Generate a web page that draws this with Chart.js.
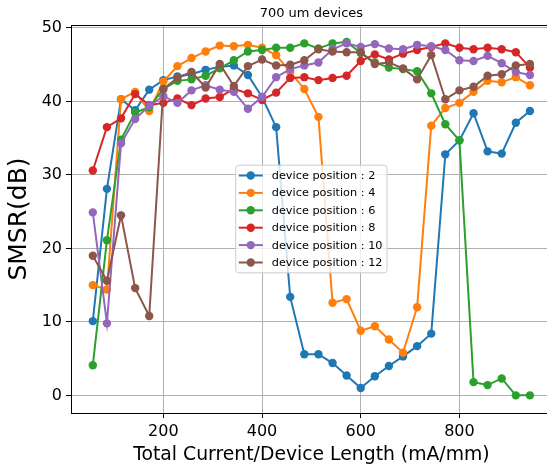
<!DOCTYPE html>
<html>
<head>
<meta charset="utf-8">
<title>700 um devices</title>
<script src="https://cdn.jsdelivr.net/npm/chart.js@4.4.1/dist/chart.umd.min.js"></script>
<style>
  html, body { margin: 0; padding: 0; background: #fff; overflow: hidden; }
  canvas { display: block; }
</style>
</head>
<body>
<canvas id="smsrChart" width="556" height="467"></canvas>
<script>
// current density steps (mA/mm)
const xValues = [57.1, 85.7, 114.3, 142.9, 171.4, 200.0, 228.6, 257.1, 285.7, 314.3, 342.9,
    371.4, 400.0, 428.6, 457.1, 485.7, 514.3, 542.9, 571.4, 600.0, 628.6, 657.1, 685.7,
    714.3, 742.9, 771.4, 800.0, 828.6, 857.1, 885.7, 914.3, 942.9];

const positions = [2, 4, 6, 8, 10, 12];

// SMSR (dB) per device position
const pos2 = [10.1, 28.1, 40.3, 38.8, 41.6, 42.9, 43.4, 43.7, 44.3, 44.7, 44.9, 43.6, 40.6, 36.5,
    13.4, 5.6, 5.6, 4.4, 2.7, 1.0, 2.6, 4.0, 5.3, 6.7, 8.4, 32.8, 34.7, 38.4, 33.2, 32.9, 37.1, 38.7];
const pos4 = [15.0, 14.4, 40.3, 41.3, 38.7, 42.7, 44.8, 45.9, 46.8, 47.6, 47.5, 47.7, 47.3, 46.3,
    44.0, 41.7, 37.9, 12.6, 13.1, 8.8, 9.4, 7.6, 5.8, 12.0, 36.7, 39.1, 39.8, 41.3, 42.8, 42.6, 43.3, 42.2];
const pos6 = [4.1, 21.1, 34.8, 38.5, 39.2, 41.7, 42.8, 43.0, 43.5, 44.5, 45.6, 46.8, 47.0, 47.3,
    47.3, 47.9, 47.2, 47.9, 48.1, 46.6, 45.3, 44.6, 44.4, 44.1, 41.1, 36.9, 34.7, 1.8, 1.4, 2.3, 0.0, 0.0];
const pos8 = [30.6, 36.5, 37.7, 41.0, 39.5, 39.8, 40.4, 39.5, 40.4, 40.6, 41.7, 41.1, 40.2, 41.2,
    43.2, 43.3, 42.9, 43.2, 43.5, 45.5, 46.4, 45.7, 46.5, 47.0, 47.4, 47.9, 47.3, 47.1, 47.3, 47.1, 46.7, 44.6];
const pos10 = [24.9, 9.8, 34.3, 37.6, 39.4, 40.7, 39.8, 41.5, 42.2, 41.6, 41.3, 39.0, 40.6, 43.3,
    44.4, 44.9, 45.3, 47.1, 47.9, 47.4, 47.8, 47.2, 47.1, 47.7, 47.5, 47.0, 45.6, 45.5, 46.2, 45.2, 44.0, 43.6];
const pos12 = [19.0, 15.6, 24.5, 14.6, 10.8, 41.7, 43.2, 44.0, 41.9, 45.1, 42.1, 44.8, 45.7, 44.9,
    45.0, 45.6, 47.1, 46.8, 46.7, 46.7, 45.1, 45.3, 44.5, 43.0, 46.3, 40.3, 41.5, 42.0, 43.5, 43.7, 44.9, 45.1];

const series = [pos2, pos4, pos6, pos8, pos10, pos12];
const xTicks = [200, 400, 600, 800];
const yTicks = [0, 10, 20, 30, 40, 50];

const colors = ['#1f77b4', '#ff7f0e', '#2ca02c', '#d62728', '#9467bd', '#8c564b'];
const FONT = 'DejaVu Sans';

// axes frame (all four spines)
const framePlugin = {
    id: 'frame',
    afterDatasetsDraw(chart) {
        const { ctx, chartArea: a } = chart;
        ctx.save();
        ctx.strokeStyle = '#000';
        ctx.lineWidth = 1;
        ctx.strokeRect(Math.round(a.left) + 0.5, Math.round(a.top) + 0.5,
            Math.round(a.right - a.left), Math.round(a.bottom - a.top));
        ctx.restore();
    }
};

// matplotlib-like legend centred in the plot
const legendPlugin = {
    id: 'boxLegend',
    afterDraw(chart) {
        const { ctx, chartArea: a } = chart;
        const ds = chart.data.datasets;
        const fs = 11.3, rowH = 17.4, pad = 4.5;
        ctx.save();
        ctx.font = fs + 'px "' + FONT + '"';
        const textW = Math.max(...ds.map(d => ctx.measureText(d.label).width));
        const w = 36 + textW + pad;
        const h = (ds.length - 1) * rowH + 20.6;
        const x0 = (a.left + a.right) / 2 - w / 2;
        const y0 = (a.top + a.bottom) / 2 - h / 2;

        ctx.beginPath();
        ctx.roundRect(x0, y0, w, h, 3);
        ctx.fillStyle = 'rgba(255,255,255,0.8)';
        ctx.fill();
        ctx.strokeStyle = '#cccccc';
        ctx.lineWidth = 1;
        ctx.stroke();

        ds.forEach((d, i) => {
            const cy = y0 + 10.3 + i * rowH;
            ctx.strokeStyle = d.borderColor;
            ctx.lineWidth = 2;
            ctx.beginPath();
            ctx.moveTo(x0 + 3, cy);
            ctx.lineTo(x0 + 27, cy);
            ctx.stroke();
            ctx.fillStyle = d.borderColor;
            ctx.beginPath();
            ctx.arc(x0 + 15, cy, 4.2, 0, Math.PI * 2);
            ctx.fill();
            ctx.fillStyle = '#000';
            ctx.textBaseline = 'middle';
            ctx.fillText(d.label, x0 + 36, cy + 0.5);
        });
        ctx.restore();
    }
};

document.addEventListener('DOMContentLoaded', function () {
    const ctx = document.getElementById('smsrChart').getContext('2d');

    new Chart(ctx, {
        type: 'line',
        data: {
            datasets: series.map((vals, i) => ({
                label: 'device position : ' + positions[i],
                data: xValues.map((x, j) => ({ x: x, y: vals[j] })),
                borderColor: colors[i],
                backgroundColor: colors[i],
                borderWidth: 2,
                pointRadius: 4.2,
                pointHoverRadius: 4.2,
                pointBorderWidth: 0,
                tension: 0,
                fill: false,
                order: series.length - i
            }))
        },
        options: {
            responsive: false,
            animation: false,
            devicePixelRatio: 1,
            layout: { padding: 0 },
            events: [],
            plugins: {
                legend: { display: false },
                tooltip: { enabled: false },
                title: {
                    display: true,
                    text: '700 um devices',
                    fullSize: false,
                    color: '#000',
                    font: { family: FONT, size: 13, weight: 'normal' },
                    padding: { top: 6.2, bottom: 3.2 }
                }
            },
            scales: {
                x: {
                    type: 'linear',
                    min: 12.9,
                    max: 987.2,
                    afterBuildTicks: axis => { axis.ticks = xTicks.map(v => ({ value: v })); },
                    afterFit: axis => { axis.height = 54; axis.paddingLeft = 0; axis.paddingRight = 0; },
                    border: { display: false },
                    grid: { color: '#b0b0b0', lineWidth: 1, tickColor: '#000', tickLength: 5, tickWidth: 1 },
                    ticks: { color: '#000', font: { family: FONT, size: 16 }, padding: 4, maxRotation: 0 },
                    title: {
                        display: true,
                        text: 'Total Current/Device Length (mA/mm)',
                        color: '#000',
                        font: { family: FONT, size: 18.8 },
                        padding: { top: 0, bottom: 1 }
                    }
                },
                y: {
                    type: 'linear',
                    min: -2.4,
                    max: 50.4,
                    afterBuildTicks: axis => { axis.ticks = yTicks.map(v => ({ value: v })); },
                    afterFit: axis => { axis.width = 71; axis.paddingTop = 0; axis.paddingBottom = 0; },
                    border: { display: false },
                    grid: { color: '#b0b0b0', lineWidth: 1, tickColor: '#000', tickLength: 5, tickWidth: 1 },
                    ticks: { color: '#000', font: { family: FONT, size: 16 }, padding: 4 },
                    title: {
                        display: true,
                        text: 'SMSR(dB)',
                        color: '#000',
                        font: { family: FONT, size: 25 },
                        padding: { top: 4, bottom: 0 }
                    }
                }
            }
        },
        plugins: [framePlugin, legendPlugin]
    });
});
</script>
</body>
</html>
